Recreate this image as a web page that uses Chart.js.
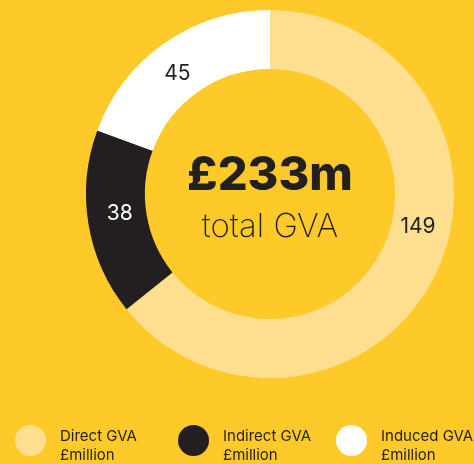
<!DOCTYPE html>
<html>
<head>
<meta charset="utf-8">
<script src="https://cdn.jsdelivr.net/npm/chart.js@4/dist/chart.umd.min.js"></script>
<style>
  html, body { margin: 0; padding: 0; background: #fdca2a; }
  #wrap { position: relative; width: 474px; height: 464px; overflow: hidden; }
  #legend { position: absolute; left: 0; top: 425px; width: 474px; height: 40px; font-family: Inter, sans-serif; font-size: 15px; line-height: 19px; color: #231f20; }
  .item { position: absolute; top: 0; }
  .dot { position: absolute; top: 0; width: 31px; height: 31px; border-radius: 50%; }
  .txt { position: absolute; top: 1px; white-space: nowrap; }
</style>
</head>
<body>
<div id="wrap">
  <canvas id="gva" width="474" height="464"></canvas>
  <div id="legend"></div>
</div>
<script>
"use strict";

// Data
const categories = ['Direct GVA', 'Indirect GVA', 'Induced GVA'];
const unitLabel = '£million';
const gvaValues = [149, 38, 45];
const totalLabel = '£233m';
const totalCaption = 'total GVA';

// Styles
const sliceColors = ['#fedf8f', '#231f20', '#ffffff'];
const labelColors = ['#231f20', '#ffffff', '#231f20'];
const labelFraction = [0.443, 0.53, 0.46]; // where along each arc the number sits
const legendX = [15, 178, 336];

// Number labels on the ring
const sliceLabels = {
    id: 'sliceLabels',
    afterDatasetsDraw(chart) {
        const ctx = chart.ctx;
        const meta = chart.getDatasetMeta(0);
        ctx.save();
        ctx.font = '400 21px Inter, sans-serif';
        ctx.textAlign = 'center';
        ctx.textBaseline = 'middle';
        meta.data.forEach((arc, i) => {
            const p = arc.getProps(['x', 'y', 'startAngle', 'endAngle', 'innerRadius', 'outerRadius'], true);
            const a = p.startAngle + (p.endAngle - p.startAngle) * labelFraction[i];
            const r = (p.innerRadius + p.outerRadius) / 2 - 3;
            ctx.fillStyle = labelColors[i];
            ctx.fillText(String(gvaValues[i]), p.x + Math.cos(a) * r, p.y + Math.sin(a) * r);
        });
        ctx.restore();
    }
};

// Total in the middle
const centerText = {
    id: 'centerText',
    afterDraw(chart) {
        const ctx = chart.ctx;
        const arc = chart.getDatasetMeta(0).data[0];
        const cx = arc.x, cy = arc.y;
        ctx.save();
        ctx.fillStyle = '#231f20';
        ctx.textAlign = 'center';
        ctx.textBaseline = 'alphabetic';
        ctx.font = '800 47px Inter, sans-serif';
        ctx.fillText(totalLabel, cx, cy - 4);
        ctx.font = '200 33px Inter, sans-serif';
        ctx.fillText(totalCaption, cx, cy + 43);
        ctx.restore();
    }
};

const ctx = document.getElementById('gva').getContext('2d');
new Chart(ctx, {
    type: 'doughnut',
    data: {
        labels: categories,
        datasets: [{
            data: gvaValues,
            backgroundColor: sliceColors,
            borderWidth: 0
        }]
    },
    options: {
        responsive: false,
        animation: false,
        cutout: '68%',
        layout: { padding: { left: 86, right: 20, top: 10, bottom: 86 } },
        plugins: {
            legend: { display: false },
            tooltip: { enabled: false }
        }
    },
    plugins: [sliceLabels, centerText]
});

// Legend
const legendEl = document.getElementById('legend');
categories.forEach((name, i) => {
    const item = document.createElement('div');
    item.className = 'item';
    item.style.left = legendX[i] + 'px';
    item.innerHTML = '<div class="dot" style="background:' + sliceColors[i] + '"></div>' +
        '<div class="txt" style="left:45px">' + name + '<br>' + unitLabel + '</div>';
    legendEl.appendChild(item);
});
</script>
</body>
</html>
